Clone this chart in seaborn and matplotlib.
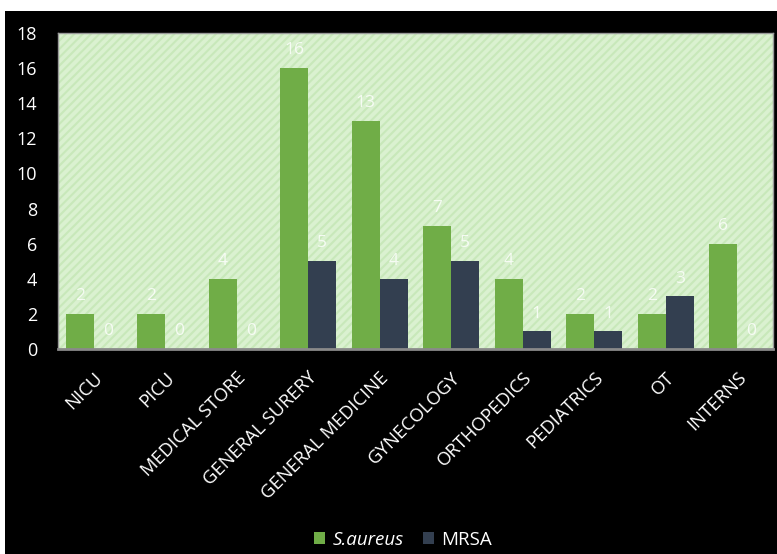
import pandas as pd
import matplotlib
matplotlib.use("Agg")
import matplotlib.pyplot as plt
from matplotlib.patches import Rectangle, Patch
import seaborn as sns

# ----------- Data ---------------
departments = ["NICU", "PICU", "MEDICAL STORE", "GENERAL SURERY", "GENERAL MEDICINE",
               "GYNECOLOGY", "ORTHOPEDICS", "PEDIATRICS", "OT", "INTERNS"]
s_aureus = [2, 2, 4, 16, 13, 7, 4, 2, 2, 6]
mrsa = [0, 0, 0, 5, 4, 5, 1, 1, 3, 0]
series_names = ["S.aureus", "MRSA"]
colors = ["#70AD47", "#333F50"]

df = pd.DataFrame({
    "dept": departments * 2,
    "count": s_aureus + mrsa,
    "organism": [series_names[0]] * len(departments) + [series_names[1]] * len(departments),
})

# ----------- Figure ---------------
sns.set_style("white")
plt.rcParams["font.family"] = ["Open Sans", "DejaVu Sans"]
plt.rcParams["hatch.linewidth"] = 1.5

fig = plt.figure(figsize=(7.77, 5.54), dpi=100, facecolor="white")
fig.patches.append(Rectangle((5 / 777, 0), 772 / 777, 543 / 554,
                             transform=fig.transFigure, facecolor="black",
                             edgecolor="none", zorder=-10))

ax = fig.add_axes([58 / 777, 1 - 349 / 554, 715 / 777, 316 / 554])
ax.patch.set_facecolor("#daf1d0")
ax.patch.set_hatch("////")
ax.patch.set_edgecolor("#c8e8ba")

sns.barplot(data=df, x="dept", y="count", hue="organism", palette=colors,
            width=0.78, ax=ax, legend=False, saturation=1, linewidth=0)

for cont in ax.containers:
    ax.bar_label(cont, padding=7, color="white", fontsize=12.5, alpha=0.8)

ax.set_ylim(0, 18)
ax.set_yticks(range(0, 19, 2))
ax.set_xlim(-0.5, len(departments) - 0.5)
ax.set_xlabel("")
ax.set_ylabel("")
ax.tick_params(axis="y", length=0, pad=15, labelsize=13, labelcolor="white")
ax.tick_params(axis="x", length=0, pad=14, labelsize=13.3, labelcolor="white")
plt.setp(ax.get_xticklabels(), rotation=45, ha="right", rotation_mode="anchor")

for side in ["top", "right", "left"]:
    ax.spines[side].set_color("#9a9a9a")
    ax.spines[side].set_linewidth(1)
ax.spines["bottom"].set_color("#8a8a8a")
ax.spines["bottom"].set_linewidth(2)

handles = [Patch(facecolor=c, edgecolor="none") for c in colors]
leg = fig.legend(handles, series_names, loc="center", bbox_to_anchor=(403 / 777, 14 / 554),
                 ncol=2, frameon=False, fontsize=13.5, handlelength=0.6, handleheight=0.6,
                 handletextpad=0.4, columnspacing=1.0)
for t in leg.get_texts():
    t.set_color("white")
leg.get_texts()[0].set_fontstyle("italic")

fig.savefig("out.png", dpi=100, facecolor=fig.get_facecolor())
